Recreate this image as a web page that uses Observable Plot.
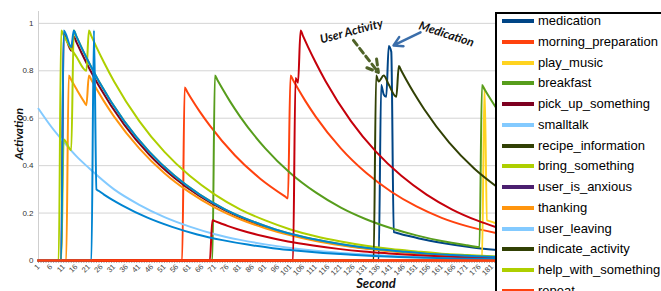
<!DOCTYPE html>
<html>
<head>
<meta charset="utf-8">
<script src="https://cdn.jsdelivr.net/npm/d3@7"></script>
<script src="https://cdn.jsdelivr.net/npm/@observablehq/plot@0.6"></script>
<style>
  html, body { margin: 0; padding: 0; background: #fff; }
  #wrap { position: relative; width: 661px; height: 291px; overflow: hidden; font-family: "Liberation Sans", Arial, sans-serif; }
  #wrap svg { position: absolute; left: 0; top: 0; }
  .ttl { position: absolute; font-family: Lato, "Open Sans", sans-serif; font-weight: bold; font-style: italic; color: #111; white-space: nowrap; }
  #legend { position: absolute; left: 495px; top: 12px; width: 220px; height: 320px; border: 2px solid #000; background: #fff; box-sizing: border-box; }
  .li { position: absolute; left: 0; height: 20px; white-space: nowrap; }
  .sw { position: absolute; left: 5px; width: 32px; height: 4px; }
  .lt { position: absolute; left: 41px; font-size: 13px; color: #000; line-height: 16px; }
</style>
</head>
<body>
<div id="wrap"></div>
<script>
// ---- data (second, activation) ----
const medication = [[1,0],[136,0],[137,0.74],[138,0.70],[139,0.69],[140,0.905],[141,0.88],[142,0.12],[143,0.117],[145,0.111],[148,0.103],[152,0.093],[162,0.073],[172,0.057],[183,0.044]];
const morning_preparation = [[1,0],[58,0],[59,0.73],[60,0.712],[62,0.677],[65,0.628],[69,0.569],[79,0.443],[89,0.345],[99,0.269],[100,0.262],[101,0.78],[102,0.761],[104,0.724],[107,0.671],[111,0.607],[121,0.473],[131,0.37],[141,0.29],[151,0.228],[161,0.18],[171,0.145],[183,0.115]];
const play_music = [[1,0],[177,0],[178,0.73],[179,0.17],[180,0.166],[183,0.155]];
const breakfast = [[1,0],[70,0],[71,0.78],[72,0.761],[74,0.724],[77,0.671],[81,0.607],[91,0.473],[101,0.368],[111,0.287],[121,0.223],[131,0.174],[141,0.136],[151,0.106],[161,0.082],[171,0.064],[176,0.056],[177,0.74],[178,0.722],[180,0.687],[183,0.637]];
const pick_up_something = [[1,0],[10,0],[11,0.955],[14,0.885],[15,0.945],[16,0.922],[18,0.877],[21,0.813],[25,0.736],[35,0.573],[45,0.446],[55,0.348],[65,0.271],[75,0.211],[85,0.164],[95,0.128],[105,0.100],[115,0.078],[125,0.060],[135,0.047],[145,0.037],[155,0.029],[165,0.022],[175,0.017],[183,0.014]];
const smalltalk = [[1,0.64],[6,0.565],[11,0.50],[16,0.44],[21,0.39],[31,0.30],[41,0.235],[51,0.183],[61,0.143],[71,0.111],[81,0.087],[91,0.068],[101,0.053],[111,0.041],[121,0.032],[131,0.025],[141,0.019],[151,0.015],[161,0.012],[171,0.009],[183,0.007]];
const recipe_information = [[1,0],[183,0]];
const bring_something = [[1,0],[9,0],[10,0.97],[11,0.95],[13,0.91],[16,0.86],[20,0.80],[21,0.97],[22,0.946],[24,0.90],[27,0.835],[31,0.755],[41,0.588],[51,0.458],[61,0.357],[71,0.278],[81,0.216],[91,0.169],[101,0.131],[111,0.102],[121,0.080],[131,0.062],[141,0.048],[151,0.038],[161,0.029],[171,0.023],[183,0.017]];
const user_is_anxious = [[1,0],[183,0]];
const thanking = [[1,0],[12,0],[13,0.78],[14,0.761],[16,0.724],[19,0.671],[20,0.655],[21,0.78],[22,0.761],[24,0.724],[27,0.671],[31,0.607],[41,0.473],[51,0.368],[61,0.287],[71,0.223],[81,0.174],[91,0.136],[101,0.106],[111,0.082],[121,0.064],[131,0.050],[141,0.039],[151,0.030],[161,0.024],[171,0.018],[183,0.014]];
const user_leaving = [[1,0],[183,0]];
const indicate_activity = [[1,0],[134,0],[135,0.78],[136,0.755],[138,0.78],[140,0.742],[143,0.69],[144,0.82],[145,0.80],[147,0.761],[150,0.706],[154,0.639],[164,0.497],[174,0.387],[183,0.31]];
const help_with_something = [[1,0],[10,0],[11,0.51],[14,0.465],[15,0.97],[16,0.946],[18,0.90],[21,0.835],[25,0.755],[35,0.588],[45,0.458],[55,0.357],[65,0.278],[75,0.216],[85,0.169],[95,0.131],[105,0.102],[115,0.080],[125,0.062],[135,0.048],[145,0.038],[155,0.029],[165,0.023],[175,0.018],[183,0.015]];
const repeat = [[1,0],[183,0]];
// series beyond the visible part of the legend
const extra_red_a = [[1,0],[69,0],[70,0.17],[71,0.166],[73,0.158],[76,0.146],[80,0.132],[90,0.103],[100,0.080],[110,0.063],[120,0.049],[130,0.038],[140,0.030],[150,0.023],[160,0.018],[170,0.014],[183,0.010]];
const extra_red_b = [[1,0],[102,0],[103,0.77],[104,0.75],[105,0.97],[106,0.946],[108,0.90],[111,0.835],[115,0.755],[125,0.588],[135,0.458],[145,0.357],[155,0.278],[165,0.216],[175,0.169],[183,0.139]];
const extra_blue_a = [[1,0],[10,0],[11,0.97],[14,0.90],[15,0.97],[16,0.946],[18,0.90],[21,0.835],[25,0.755],[35,0.588],[45,0.458],[55,0.357],[65,0.278],[75,0.216],[85,0.169],[95,0.131],[105,0.102],[115,0.080],[125,0.062],[135,0.048],[145,0.038],[155,0.029],[165,0.023],[175,0.018],[183,0.015]];
const extra_blue_b = [[1,0],[22,0],[23,0.97],[24,0.30],[25,0.293],[27,0.278],[30,0.258],[34,0.234],[44,0.182],[54,0.142],[64,0.110],[74,0.086],[84,0.067],[94,0.052],[104,0.041],[114,0.032],[124,0.025],[134,0.019],[144,0.015],[154,0.012],[164,0.009],[174,0.007],[183,0.006]];

const legendNames = ["medication","morning_preparation","play_music","breakfast","pick_up_something","smalltalk","recipe_information","bring_something","user_is_anxious","thanking","user_leaving","indicate_activity","help_with_something","repeat"];
const legendColors = ["#004586","#ff420e","#ffd320","#579d1c","#7e0021","#83caff","#314004","#aecf00","#4b1f6f","#ff950e","#83caff","#314004","#aecf00","#ff420e"];
const legendSeries = [medication, morning_preparation, play_music, breakfast, pick_up_something, smalltalk, recipe_information, bring_something, user_is_anxious, thanking, user_leaving, indicate_activity, help_with_something, repeat];
const extraSeries = [extra_red_a, extra_red_b, extra_blue_a, extra_blue_b];
const extraColors = ["#c5000b","#c5000b","#0084d1","#0084d1"];

const xTickLabels = [1,6,11,16,21,26,31,36,41,46,51,56,61,66,71,76,81,86,91,96,101,106,111,116,121,126,131,136,141,146,151,156,161,166,171,176,181];
const yTicks = [0,0.2,0.4,0.6,0.8,1];
const gridTicks = [0.2,0.4,0.6,0.8,1];

// annotations in data coordinates
const arrowUser = [{x1:126, y1:0.928, x2:135.9, y2:0.793}];
const arrowMed = [{x1:152.6, y1:0.962, x2:141.9, y2:0.907}];
const noteUser = [{x:125.2, y:0.966, text:"User Activity"}];
const noteMed = [{x:162.9, y:0.954, text:"Medication"}];

const lineMarks = [];
legendSeries.forEach((s, i) => lineMarks.push(Plot.line(s, {x: d => d[0], y: d => d[1], stroke: legendColors[i], strokeWidth: 2, curve: "monotone-x"})));
extraSeries.forEach((s, i) => lineMarks.push(Plot.line(s, {x: d => d[0], y: d => d[1], stroke: extraColors[i], strokeWidth: 2, curve: "monotone-x"})));
// baseline of the last series drawn on top
lineMarks.push(Plot.line(repeat, {x: d => d[0], y: d => d[1], stroke: "#ff420e", strokeWidth: 2.6}));

const chart = Plot.plot({
  width: 661, height: 291,
  marginLeft: 38, marginRight: 164.4, marginTop: 11, marginBottom: 31,
  style: {fontFamily: "Liberation Sans, Arial, sans-serif", background: "transparent"},
  x: {domain: [1, 183]},
  y: {domain: [0, 1.05]},
  marks: [
    Plot.gridY(gridTicks, {stroke: "#d4d4d4", strokeOpacity: 1, strokeWidth: 1}),
    Plot.ruleX([1], {stroke: "#cfcfcf", strokeWidth: 1}),
    Plot.axisY(yTicks, {tickSize: 0, tickPadding: 5, fontSize: 8, fill: "#333", label: null, tickFormat: d => d === 0 ? "0" : d === 1 ? "1" : d.toFixed(1)}),
    Plot.axisX(d3.range(1, 184), {tickSize: 3, stroke: "#aaa", tickFormat: () => "", label: null}),
    Plot.axisX(xTickLabels, {tickSize: 0, tickPadding: 5, tickRotate: -45, fontSize: 7.5, fill: "#444", label: null}),
    ...lineMarks,
    Plot.arrow(arrowUser, {x1: "x1", y1: "y1", x2: "x2", y2: "y2", stroke: "#4f6228", strokeWidth: 3, strokeDasharray: "6,4", headLength: 12}),
    Plot.arrow(arrowMed, {x1: "x1", y1: "y1", x2: "x2", y2: "y2", stroke: "#3b6eaa", strokeWidth: 2.5, headLength: 12}),
    Plot.text(noteUser, {x: "x", y: "y", text: "text", rotate: -15, fontSize: 12, fontWeight: "bold", fontStyle: "italic", fontFamily: "Lato, Open Sans, sans-serif", fill: "#111"}),
    Plot.text(noteMed, {x: "x", y: "y", text: "text", rotate: 18, fontSize: 12, fontWeight: "bold", fontStyle: "italic", fontFamily: "Lato, Open Sans, sans-serif", fill: "#111"})
  ]
});

const wrap = document.getElementById("wrap");
wrap.appendChild(chart);

// axis titles
const yt = document.createElement("div");
yt.className = "ttl";
yt.textContent = "Activation";
yt.style.fontSize = "12px";
yt.style.left = "18px"; yt.style.top = "134px";
yt.style.transform = "translate(-50%,-50%) rotate(-90deg)";
wrap.appendChild(yt);

const xt = document.createElement("div");
xt.className = "ttl";
xt.textContent = "Second";
xt.style.fontSize = "13px";
xt.style.lineHeight = "14px";
xt.style.left = "376px"; xt.style.top = "283px";
xt.style.transform = "translate(-50%,-50%)";
wrap.appendChild(xt);

// legend
const lg = document.createElement("div");
lg.id = "legend";
legendNames.forEach((n, i) => {
  const it = document.createElement("div");
  it.className = "li";
  const cy = 21 + i * 20.75 - 12 - 2; // relative to legend box inner top
  it.style.top = (cy - 10) + "px";
  const sw = document.createElement("div");
  sw.className = "sw"; sw.style.background = legendColors[i]; sw.style.top = "8px";
  const tx = document.createElement("div");
  tx.className = "lt"; tx.textContent = n; tx.style.top = "2px";
  it.appendChild(sw); it.appendChild(tx);
  lg.appendChild(it);
});
wrap.appendChild(lg);
</script>
</body>
</html>
